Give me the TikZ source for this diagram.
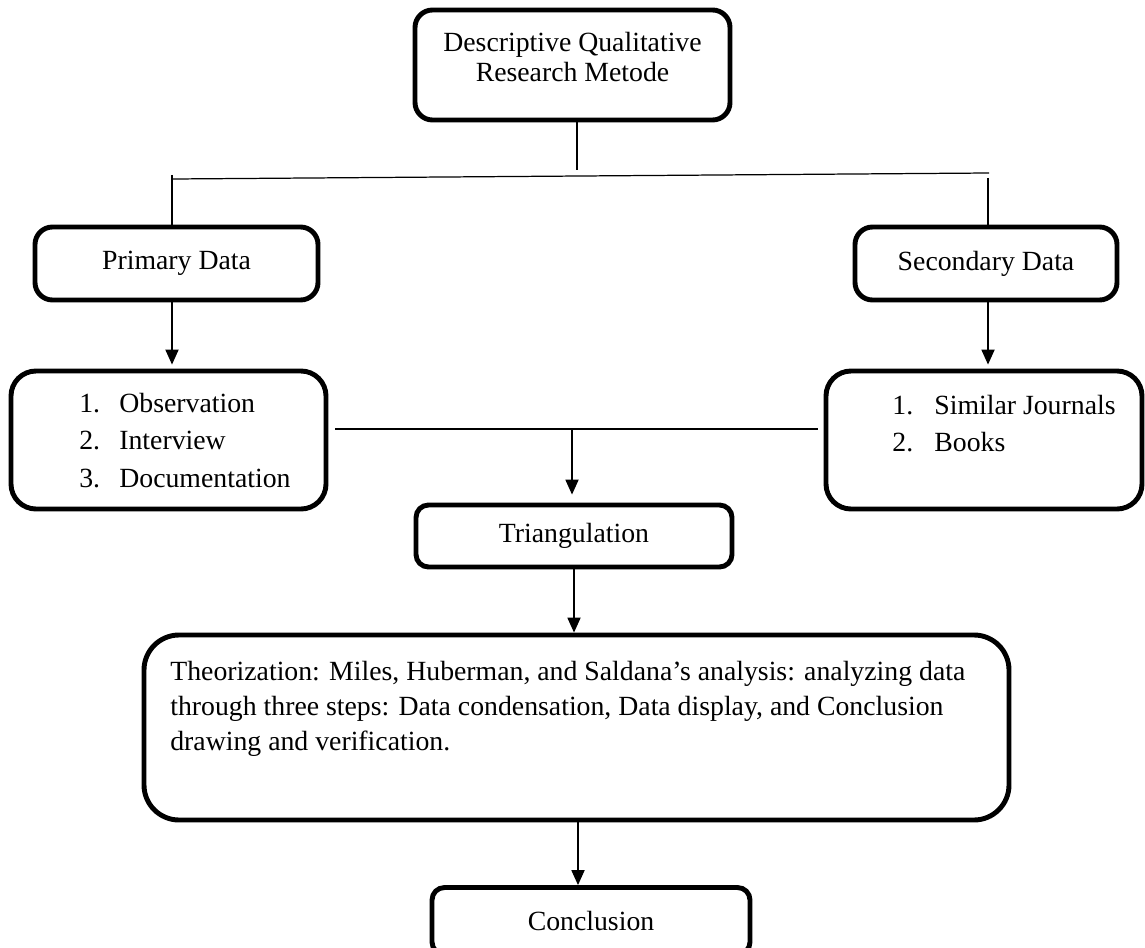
\documentclass[tikz,border=0pt]{standalone}
\usepackage{fontspec}
\setmainfont{Liberation Serif}
\usetikzlibrary{arrows.meta}

\tikzset{
	kotak/.style={draw, line width=2.8pt, rounded corners=0.35cm, inner sep=0pt},
	garis/.style={line width=0.7pt},
	panah/.style={line width=0.7pt, -{Triangle[length=8.5pt,width=7.5pt]}},
	teks/.style={font=\fontsize{15.8}{20}\selectfont, inner sep=0pt}
}

\begin{document}
\begin{tikzpicture}
	% keret
	\useasboundingbox (0,0) rectangle (22.9,-18.94);
	
	%metode
	\node[kotak, minimum width=6.3cm, minimum height=2.2cm] (metode) at (11.45,-1.3) {};
	\node[teks, align=center, font=\fontsize{15.8}{17}\selectfont] (metodeteks) at (11.45,-1.14) {Descriptive Qualitative\\Research Metode};
	
	%adatok
	\node[kotak, teks, minimum width=5.66cm, minimum height=1.46cm] (primer) at (3.53,-5.27) {Primary Data};
	\node[kotak, teks, minimum width=5.24cm, minimum height=1.46cm] (sekunder) at (19.72,-5.27) {Secondary Data};
	
	%elágazás
	\coordinate (cabang) at (11.54,-3.4);
	\coordinate (bataskiri) at (3.46,-3.58);
	\coordinate (bataskanan) at (19.78,-3.46);
	\coordinate (kiri) at (3.44,-3.5);
	\coordinate (kanan) at (19.76,-3.56);
	\draw[garis] (metode.south -| cabang) -- (cabang);
	\draw[garis] (bataskiri) -- (bataskanan);
	\draw[garis] (kiri) -- (kiri |- primer.north);
	\draw[garis] (kanan) -- (kanan |- sekunder.north);
	
	%listák
	\node[kotak, rounded corners=0.5cm, minimum width=6.3cm, minimum height=2.76cm] (primerisi) at (3.37,-8.8) {};
	\node[kotak, rounded corners=0.5cm, minimum width=6.32cm, minimum height=2.76cm] (sekunderisi) at (19.68,-8.8) {};
	\node[teks, anchor=west, align=left, font=\fontsize{15.8}{21.5}\selectfont] (primerteks) at (1.58,-8.81) {\makebox[0.8cm][l]{1.}Observation\\\makebox[0.8cm][l]{2.}Interview\\\makebox[0.8cm][l]{3.}Documentation};
	\node[teks, anchor=west, align=left, font=\fontsize{15.8}{21.5}\selectfont] (sekunderteks) at (17.84,-8.47) {\makebox[0.84cm][l]{1.}Similar Journals\\\makebox[0.84cm][l]{2.}Books};
	\draw[panah] (kiri |- primer.south) -- ([yshift=0.08cm]kiri |- primerisi.north);
	\draw[panah] (kanan |- sekunder.south) -- ([yshift=0.08cm]kanan |- sekunderisi.north);
	
	%háromszögelés
	\node[kotak, teks, rounded corners=0.25cm, minimum width=6.32cm, minimum height=1.24cm] (triangulasi) at (11.48,-10.72) {Triangulation};
	\coordinate (gabungkiri) at (6.7,-8.58);
	\coordinate (gabungkanan) at (16.36,-8.58);
	\coordinate (gabung) at (11.44,-8.58);
	\draw[garis] (gabungkiri) -- (gabungkanan);
	\draw[panah] (gabung) -- ([yshift=0.16cm]gabung |- triangulasi.north);
	
	%elmélet
	\node[kotak, rounded corners=0.7cm, minimum width=17.3cm, minimum height=3.7cm] (teori) at (11.53,-14.55) {};
	\node[teks, anchor=north west, align=left] (teoriteks) at (3.4,-13.22) {Theorization: Miles, Huberman, and Saldana’s analysis: analyzing data\\through three steps: Data condensation, Data display, and Conclusion\\drawing and verification.};
	\draw[panah] (triangulasi.south) -- (triangulasi.south |- teori.north);
	
	%következtetés
	\node[kotak, teks, rounded corners=0.25cm, minimum width=6.36cm, minimum height=1.34cm] (simpulan) at (11.82,-18.42) {Conclusion};
	\coordinate (turun) at (11.56,-16.4);
	\draw[panah] (teori.south -| turun) -- (turun |- simpulan.north);
	
\end{tikzpicture}
\end{document}
